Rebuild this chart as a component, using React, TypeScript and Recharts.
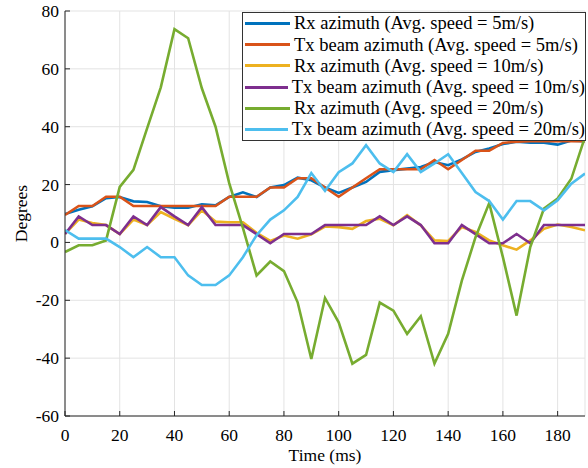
import { LineChart, Line, XAxis, YAxis, CartesianGrid, Label } from 'recharts';

// sample instants, every 5 ms
const TIME = [
  0, 5, 10, 15, 20, 25, 30, 35, 40, 45, 50, 55, 60, 65, 70, 75, 80, 85, 90, 95,
  100, 105, 110, 115, 120, 125, 130, 135, 140, 145, 150, 155, 160, 165, 170, 175, 180, 185, 190,
];

const RX_5 = [
  9.8, 11.3, 12.5, 15.3, 15.7, 14.2, 14.0, 12.5, 12.0, 12.0, 13.2, 12.8, 15.7, 17.3, 15.7, 19.0, 19.8, 22.4, 21.5, 19.0,
  17.1, 19.0, 20.9, 24.4, 25.0, 25.5, 26.1, 27.8, 26.7, 28.7, 31.3, 32.5, 34.0, 34.8, 34.5, 34.5, 33.8, 35.2, 35.0,
];
const TX_5 = [
  9.5, 12.6, 12.6, 15.8, 15.8, 12.6, 12.6, 12.6, 12.6, 12.6, 12.6, 12.6, 15.8, 15.8, 15.8, 19.0, 19.0, 22.2, 22.2, 19.0,
  15.8, 19.0, 22.2, 25.3, 25.3, 25.3, 25.3, 28.5, 25.3, 28.5, 31.7, 31.7, 34.4, 34.8, 35.0, 35.0, 35.0, 35.0, 35.0,
];
const RX_10 = [
  3.0, 7.9, 6.7, 6.0, 2.9, 7.9, 6.0, 10.5, 8.2, 6.0, 11.1, 7.2, 7.0, 7.0, 3.3, 0.5, 2.4, 1.3, 2.8, 5.5,
  5.3, 4.7, 7.4, 8.2, 5.9, 9.4, 5.9, 0.7, 0.5, 5.3, 3.6, 0.7, -1.0, -2.5, 0.7, 4.7, 6.2, 5.3, 4.2,
];
const TX_10 = [
  2.9, 9.0, 6.0, 6.0, 2.9, 9.0, 6.0, 12.2, 9.0, 6.0, 12.2, 6.0, 6.0, 6.0, 2.9, -0.3, 2.9, 2.9, 2.9, 6.0,
  6.0, 6.0, 6.0, 9.0, 6.0, 9.0, 6.0, -0.3, -0.3, 6.0, 2.9, -0.3, -0.3, 2.9, -0.3, 6.0, 6.0, 6.0, 6.0,
];
const RX_20 = [
  -3.3, -1.0, -1.0, 0.7, 19.2, 25.1, 39.4, 53.6, 73.7, 70.6, 53.3, 40.0, 20.5, 5.0, -11.4, -6.6, -9.9, -20.7, -40.3, -19.2,
  -27.6, -41.9, -38.9, -20.8, -23.6, -31.6, -25.5, -41.9, -31.6, -13.2, 1.8, 13.6, -5.1, -25.3, -1.6, 11.7, 15.2, 22.0, 36.5,
];
const TX_20 = [
  4.3, 1.3, 1.3, 1.3, -1.6, -5.1, -1.6, -5.1, -5.1, -11.4, -14.7, -14.7, -11.4, -5.1, 2.5, 7.9, 11.1, 15.7, 24.0, 17.8,
  24.3, 27.3, 33.6, 27.3, 24.3, 30.5, 24.3, 27.3, 30.5, 24.0, 17.4, 14.3, 7.9, 14.3, 14.3, 11.1, 14.6, 20.3, 23.8,
];

const X_TICKS = [0, 20, 40, 60, 80, 100, 120, 140, 160, 180];
const Y_TICKS = [-60, -40, -20, 0, 20, 40, 60, 80];

const SERIES = [
  { key: 'rx5', name: 'Rx azimuth (Avg. speed = 5m/s)', color: '#0072BD', values: RX_5 },
  { key: 'tx5', name: 'Tx beam azimuth (Avg. speed = 5m/s)', color: '#D95319', values: TX_5 },
  { key: 'rx10', name: 'Rx azimuth (Avg. speed = 10m/s)', color: '#EDB120', values: RX_10 },
  { key: 'tx10', name: 'Tx beam azimuth (Avg. speed = 10m/s)', color: '#7E2F8E', values: TX_10 },
  { key: 'rx20', name: 'Rx azimuth (Avg. speed = 20m/s)', color: '#77AC30', values: RX_20 },
  { key: 'tx20', name: 'Tx beam azimuth (Avg. speed = 20m/s)', color: '#4DBEEE', values: TX_20 },
];

const data = TIME.map((t, i) => {
  const row: Record<string, number> = { t };
  for (const s of SERIES) row[s.key] = s.values[i];
  return row;
});

const FONT = '"Liberation Serif", "Times New Roman", serif';
const INK = '#262626';

// matlab-style ticks: marks point into the plot box
const BottomTick = ({ x, y, payload }: any) => (
  <g>
    <line x1={x} x2={x} y1={y} y2={y - 5} stroke={INK} />
    <text x={x} y={y + 25} textAnchor="middle" fontSize={17.5} fontFamily={FONT} fill="#000">{payload.value}</text>
  </g>
);
const TopTick = ({ x, y }: any) => <line x1={x} x2={x} y1={y} y2={y + 5} stroke={INK} />;
const LeftTick = ({ x, y, payload }: any) => (
  <g>
    <line x1={x} x2={x + 5} y1={y} y2={y} stroke={INK} />
    <text x={x - 6} y={y + 6} textAnchor="end" fontSize={17.5} fontFamily={FONT} fill="#000">{payload.value}</text>
  </g>
);
const RightTick = ({ x, y }: any) => <line x1={x} x2={x - 5} y1={y} y2={y} stroke={INK} />;

// legend sits over the lines at the top right, as a plain boxed list
const LegendBox = () => (
  <div style={{
    position: 'absolute', left: 242, top: 12, width: 342, background: '#fff', border: '1px solid #333',
    fontFamily: FONT, fontSize: 18.5, color: '#000', lineHeight: 1,
  }}>
    {SERIES.map(s => (
      <div key={s.key} style={{ display: 'flex', alignItems: 'center', height: 21.2, whiteSpace: 'nowrap' }}>
        <span style={{ display: 'inline-block', width: 45, height: 3, background: s.color, margin: '0 4px 0 2px' }} />
        <span>{s.name}</span>
      </div>
    ))}
  </div>
);

export default function App() {
  return (
    <div style={{ position: 'absolute', left: 0, top: 0, width: 588, height: 468, background: '#fff' }}>
      <LineChart width={588} height={468} data={data} margin={{ top: 11, right: 3, bottom: 0, left: 0 }}>
        <CartesianGrid stroke="#e3e3e3" strokeWidth={1} />
        <XAxis dataKey="t" type="number" domain={[0, 190]} ticks={X_TICKS} allowDataOverflow height={52}
          tickSize={0} tickMargin={0} tick={<BottomTick />} axisLine={{ stroke: INK }} tickLine={false}>
          <Label content={({ viewBox }: any) => (
            <text x={viewBox.x + viewBox.width / 2} y={viewBox.y + 45} textAnchor="middle"
              fontSize={17.5} fontFamily={FONT} fill="#000">Time (ms)</text>
          )} />
        </XAxis>
        <XAxis xAxisId="top" orientation="top" dataKey="t" type="number" domain={[0, 190]} ticks={X_TICKS} height={0}
          tickSize={0} tickMargin={0} tick={<TopTick />} axisLine={{ stroke: INK }} tickLine={false} />
        <YAxis type="number" domain={[-60, 80]} ticks={Y_TICKS} allowDataOverflow width={65}
          tickSize={0} tickMargin={0} tick={<LeftTick />} axisLine={{ stroke: INK }} tickLine={false}>
          <Label content={({ viewBox }: any) => {
            const cx = viewBox.x + 27;
            const cy = viewBox.y + viewBox.height / 2;
            return (
              <text x={cx} y={cy} transform={`rotate(-90, ${cx}, ${cy})`} textAnchor="middle"
                fontSize={17.5} fontFamily={FONT} fill="#000">Degrees</text>
            );
          }} />
        </YAxis>
        <YAxis yAxisId="right" orientation="right" type="number" domain={[-60, 80]} ticks={Y_TICKS} width={0}
          tickSize={0} tickMargin={0} tick={<RightTick />} axisLine={{ stroke: INK }} tickLine={false} />
        {SERIES.map(s => (
          <Line key={s.key} dataKey={s.key} name={s.name} type="linear" stroke={s.color} strokeWidth={2.6}
            dot={false} isAnimationActive={false} />
        ))}
      </LineChart>
      <LegendBox />
    </div>
  );
}
